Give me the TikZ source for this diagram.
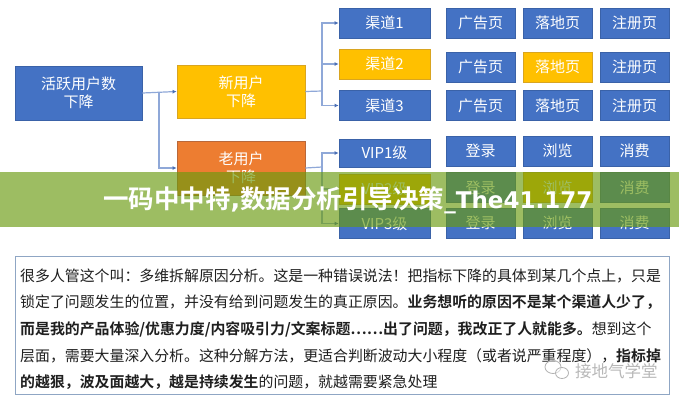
\documentclass[tikz,border=0pt]{standalone}
\usepackage{fontspec}
\setmainfont{Noto Sans CJK SC}
\newfontfamily\cjkbold{Noto Sans CJK SC Bold}
\newfontfamily\latbold{DejaVu Sans Bold}
\usetikzlibrary{arrows.meta}
\definecolor{cblue}{HTML}{4472C4}
\definecolor{cblueb}{HTML}{3A62A8}
\definecolor{cyel}{HTML}{FFC000}
\definecolor{cyelb}{HTML}{D9A520}
\definecolor{cora}{HTML}{ED7D31}
\definecolor{corab}{HTML}{B9683A}
\definecolor{cline}{HTML}{8FA8D8}
\definecolor{ctip}{HTML}{4A6FB5}
\definecolor{cband}{HTML}{699B0E}
\definecolor{cframe}{HTML}{8FA6C4}
\tikzset{
  box/.style={draw=#1,line width=0.8pt,inner sep=0pt,text=white,font=\fontsize{15}{18}\selectfont,align=center},
  bluebox/.style={box=cblueb,fill=cblue},
  yelbox/.style={box=cyelb,fill=cyel},
  orabox/.style={box=corab,fill=cora},
  chan/.style={minimum width=91pt,minimum height=30pt},
  pagebox/.style={minimum width=69pt,minimum height=30pt},
  conn/.style={draw=cline,line width=1.2pt,-{Latex[length=4pt,width=4pt,color=ctip]}},
  trunk/.style={draw=cline,line width=1.2pt},
  para/.style={anchor=base west,inner sep=0pt,font=\fontsize{14.9}{18}\selectfont,text=black!88},
  wmark/.style={inner sep=0pt,text=black!35,font=\fontsize{16.5}{18}\selectfont,opacity=0.8}
}
\begin{document}
\begin{tikzpicture}[x=1pt,y=-1pt]
\useasboundingbox (0,0) rectangle (679,400);
\fill[white] (0,0) rectangle (679,400);
% left boxes
\node[bluebox,minimum width=127pt,minimum height=54pt] (root) at (78.5,93) {活跃用户数\\下降};
\node[yelbox,minimum width=128pt,minimum height=53pt] (new) at (241,91.5) {新用户\\下降};
\node[orabox,minimum width=128pt,minimum height=54pt] (old) at (241,168) {老用户\\下降};
% channels
\node[bluebox,chan] (c1) at (384.5,23) {渠道1};
\node[yelbox,chan] (c2) at (384.5,64) {渠道2};
\node[bluebox,chan] (c3) at (384.5,105.5) {渠道3};
\node[bluebox,chan,minimum height=28pt] (c4) at (384.5,153) {VIP1级};
\node[yelbox,chan] (c5) at (384.5,189) {VIP2级};
\node[bluebox,chan] (c6) at (384.5,223.5) {VIP3级};
% page columns
\node[bluebox,pagebox] (a1) at (480.5,23) {广告页};
\node[bluebox,pagebox] (b1) at (557.5,23) {落地页};
\node[bluebox,pagebox] (d1) at (634.5,23) {注册页};
\node[bluebox,pagebox] (a2) at (480.5,67) {广告页};
\node[yelbox,pagebox] (b2) at (557.5,67) {落地页};
\node[bluebox,pagebox] (d2) at (634.5,67) {注册页};
\node[bluebox,pagebox] (a3) at (480.5,105.5) {广告页};
\node[bluebox,pagebox] (b3) at (557.5,105.5) {落地页};
\node[bluebox,pagebox] (d3) at (634.5,105.5) {注册页};
\node[bluebox,pagebox] (a4) at (480.5,151) {登录};
\node[bluebox,pagebox] (b4) at (557.5,151) {浏览};
\node[bluebox,pagebox] (d4) at (634.5,151) {消费};
\node[bluebox,pagebox] (a5) at (480.5,187.5) {登录};
\node[yelbox,pagebox] (b5) at (557.5,187.5) {浏览};
\node[bluebox,pagebox] (d5) at (634.5,187.5) {消费};
\node[bluebox,pagebox] (a6) at (480.5,223) {登录};
\node[bluebox,pagebox] (b6) at (557.5,223) {浏览};
\node[bluebox,pagebox] (d6) at (634.5,223) {消费};
% connectors
\coordinate (j0) at (159,93);
\coordinate (j1) at (322,91);
\coordinate (j2) at (322,167);
\draw[conn] (root.east) -- (new.west);
\draw[conn] (j0) |- (old.west);
\draw[trunk] (new.east) -- (j1);
\draw[trunk] (old.east) -- (j2);
\draw[conn] (j1) |- (c1.west);
\draw[conn] (j1) |- (c2.west);
\draw[conn] (j1) |- (c3.west);
\draw[conn] (j2) |- (c4.west);
\draw[conn] (j2) |- (c5.west);
\draw[conn] (j2) |- (c6.west);
% paragraph frame
\node[draw=cframe,line width=0.8pt,fill=white,minimum width=654pt,minimum height=138pt,inner sep=0pt] (frame) at (342,325) {};
\node[para] (l1) at (20,281) {很多人管这个叫：多维拆解原因分析。这是一种错误说法！把指标下降的具体到某几个点上，只是};
\node[para] (l2) at (20,307.5) {锁定了问题发生的位置，并没有给到问题发生的真正原因。{\cjkbold 业务想听的原因不是某个渠道人少了，}};
\node[para] (l3) at (20,334) {{\cjkbold 而是我的产品体验/优惠力度/内容吸引力/文案标题……出了问题，我改正了人就能多。}想到这个};
\node[para] (l4) at (20,361) {层面，需要大量深入分析。这种分解方法，更适合判断波动大小程度（或者说严重程度），{\cjkbold 指标掉}};
\node[para] (l5) at (20,387.5) {{\cjkbold 的越狠，波及面越大，越是持续发生}的问题，就越需要紧急处理};
% watermark
\node[wmark,anchor=west] (wm) at (575,371) {接地气学堂};
\draw[black!30,line width=0.8pt,fill=white,fill opacity=0.5] (553,367) ellipse (8pt and 6.5pt);
\draw[black!30,line width=0.8pt,fill=white,fill opacity=0.5] (562,373) ellipse (6.5pt and 5.5pt);
% banner
\fill[cband,opacity=0.65] (0,172) rectangle (679,227);
\node[anchor=west,inner sep=0pt,text=white,font=\fontsize{25.5}{30}\selectfont] (title) at (103,200) {\cjkbold 一码中中特{\latbold ,}数据分析引导决策{\latbold\fontsize{23}{30}\selectfont \_The41.177}};
\end{tikzpicture}
\end{document}
